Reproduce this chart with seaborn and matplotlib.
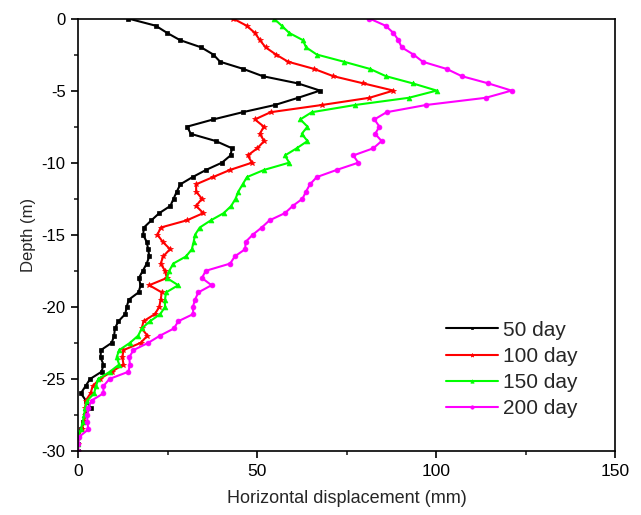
import numpy as np
import pandas as pd
import matplotlib
matplotlib.use("Agg")
import matplotlib.pyplot as plt
import seaborn as sns
from matplotlib.ticker import MultipleLocator

# ---- data ----
depth = [0, -0.5, -1, -1.5, -2, -2.5, -3, -3.5, -4, -4.5,
         -5, -5.5, -6, -6.5, -7, -7.5, -8, -8.5, -9, -9.5,
         -10, -10.5, -11, -11.5, -12, -12.5, -13, -13.5, -14, -14.5,
         -15, -15.5, -16, -16.5, -17, -17.5, -18, -18.5, -19, -19.5,
         -20, -20.5, -21, -21.5, -22, -22.5, -23, -23.5, -24, -24.5,
         -25, -25.5, -26, -26.5, -27, -27.5, -28, -28.5, -29, -29.5, -30]

series_labels = ["50 day", "100 day", "150 day", "200 day"]

disp_50 = [14.0, 21.7, 24.9, 28.5, 34.4, 37.8, 39.7, 46.2, 51.6, 61.4,
           67.6, 61.5, 55.0, 46.0, 37.8, 30.5, 31.5, 38.5, 43.0, 42.6,
           40.2, 35.8, 32.0, 28.6, 27.6, 26.7, 25.8, 22.7, 20.5, 18.4,
           18.2, 19.2, 19.6, 19.9, 19.2, 18.1, 17.0, 17.5, 16.9, 14.2,
           13.6, 13.2, 11.3, 10.3, 10.1, 9.4, 6.4, 6.3, 7.1, 6.6,
           3.4, 2.1, 0.8, 2.2, 3.5, 2.0, 1.5, 0.8, 0.0, 0.0, 0.0]

disp_100 = [43.3, 47.1, 49.4, 50.8, 52.4, 55.3, 58.7, 66.0, 71.3, 79.7,
            88.1, 81.4, 68.1, 53.8, 49.4, 51.9, 50.8, 52.0, 50.1, 47.4,
            48.6, 42.5, 37.7, 33.0, 33.0, 34.6, 33.0, 35.0, 30.4, 23.1,
            22.2, 23.7, 25.7, 23.8, 23.1, 24.3, 24.8, 19.9, 23.4, 23.1,
            22.7, 21.5, 18.3, 17.8, 19.4, 17.5, 12.7, 12.4, 12.7, 9.4,
            6.1, 4.1, 3.5, 2.2, 2.0, 2.0, 1.7, 1.0, 0.1, 0.0, 0.0]

disp_150 = [54.7, 56.9, 59.0, 62.8, 63.7, 66.7, 74.3, 81.6, 86.0, 93.5,
            100.2, 92.4, 77.4, 65.3, 62.1, 64.1, 62.5, 64.1, 61.1, 57.8,
            59.0, 52.0, 47.2, 46.0, 44.8, 44.0, 42.8, 40.7, 37.1, 34.0,
            32.7, 32.3, 31.8, 30.2, 26.6, 25.5, 24.8, 28.0, 24.6, 24.3,
            24.3, 23.0, 20.1, 17.8, 16.8, 14.5, 11.5, 10.8, 11.5, 8.9,
            5.7, 5.0, 4.5, 2.6, 2.0, 1.7, 1.3, 0.8, 0.1, 0.0, 0.0]

disp_200 = [81.4, 85.9, 88.1, 89.5, 90.4, 93.7, 96.3, 103.0, 107.2, 114.6,
            121.1, 113.9, 97.2, 86.2, 82.8, 84.2, 83.0, 84.8, 82.5, 76.9,
            78.3, 72.3, 66.7, 64.8, 63.7, 62.7, 60.0, 57.8, 53.5, 51.3,
            48.8, 46.8, 46.7, 43.8, 42.5, 35.7, 34.6, 37.3, 33.6, 32.7,
            32.1, 32.2, 28.0, 26.8, 22.9, 19.6, 15.5, 14.3, 14.5, 14.1,
            8.8, 7.1, 7.1, 3.8, 2.9, 2.6, 2.6, 2.9, 0.4, 0.0, 0.0]

x_ticks = [0, 50, 100, 150]
y_ticks = [0, -5, -10, -15, -20, -25, -30]

# ---- build table ----
all_disp = [disp_50, disp_100, disp_150, disp_200]
frames = []
for lab, d in zip(series_labels, all_disp):
    frames.append(pd.DataFrame({"Depth": depth, "Disp": d, "Series": lab}))
df = pd.concat(frames, ignore_index=True)

colors = {"50 day": "#000000", "100 day": "#FF0000",
          "150 day": "#00FF00", "200 day": "#FF00FF"}
marker_map = {"50 day": "s", "100 day": "*", "150 day": "^", "200 day": "o"}
msize = {"50 day": 3.0, "100 day": 4.2, "150 day": 3.5, "200 day": 3.5}

sns.set_style("ticks")
plt.rcParams["font.family"] = ["Liberation Sans", "DejaVu Sans"]
plt.rcParams["axes.unicode_minus"] = False

fig = plt.figure(figsize=(6.41, 5.15), dpi=100)
ax = fig.add_axes([78 / 641, 1 - 451 / 515, 537 / 641, 432.5 / 515])

sns.lineplot(data=df, x="Disp", y="Depth", hue="Series", style="Series",
             hue_order=series_labels, style_order=series_labels,
             palette=colors, markers=marker_map, dashes=False,
             sort=False, estimator=None, legend=False,
             linewidth=1.5, ax=ax)

for line, lab in zip(ax.lines[:4], series_labels):
    line.set_markeredgecolor(colors[lab])
    line.set_markerfacecolor(colors[lab])
    line.set_markersize(msize[lab])
    line.set_markeredgewidth(0.5)

ax.set_xlim(0, 150)
ax.set_ylim(-30, 0)
ax.set_xticks(x_ticks)
ax.set_yticks(y_ticks)
ax.xaxis.set_minor_locator(MultipleLocator(25))
ax.yaxis.set_minor_locator(MultipleLocator(2.5))
ax.tick_params(axis="both", which="major", direction="out", length=5,
               width=1.2, colors="black", pad=4)
ax.tick_params(axis="x", which="major", labelsize=12.5)
ax.tick_params(axis="y", which="major", labelsize=12)
ax.tick_params(axis="both", which="minor", direction="out", length=3,
               width=1.2)
ax.tick_params(top=False, right=False, which="both")
for sp in ax.spines.values():
    sp.set_visible(True)
    sp.set_linewidth(1.2)
    sp.set_color("black")

ax.set_xlabel("Horizontal displacement (mm)", fontsize=13, labelpad=8)
ax.set_ylabel("Depth (m)", fontsize=12, labelpad=4)

ax.legend(handles=ax.lines[:4], labels=series_labels, loc="upper left",
          bbox_to_anchor=(0.65, 0.345), frameon=False, fontsize=15,
          handlelength=2.5, handletextpad=0.25, labelspacing=0.35,
          numpoints=1, markerscale=0.7)

fig.savefig("out.png", dpi=100)
